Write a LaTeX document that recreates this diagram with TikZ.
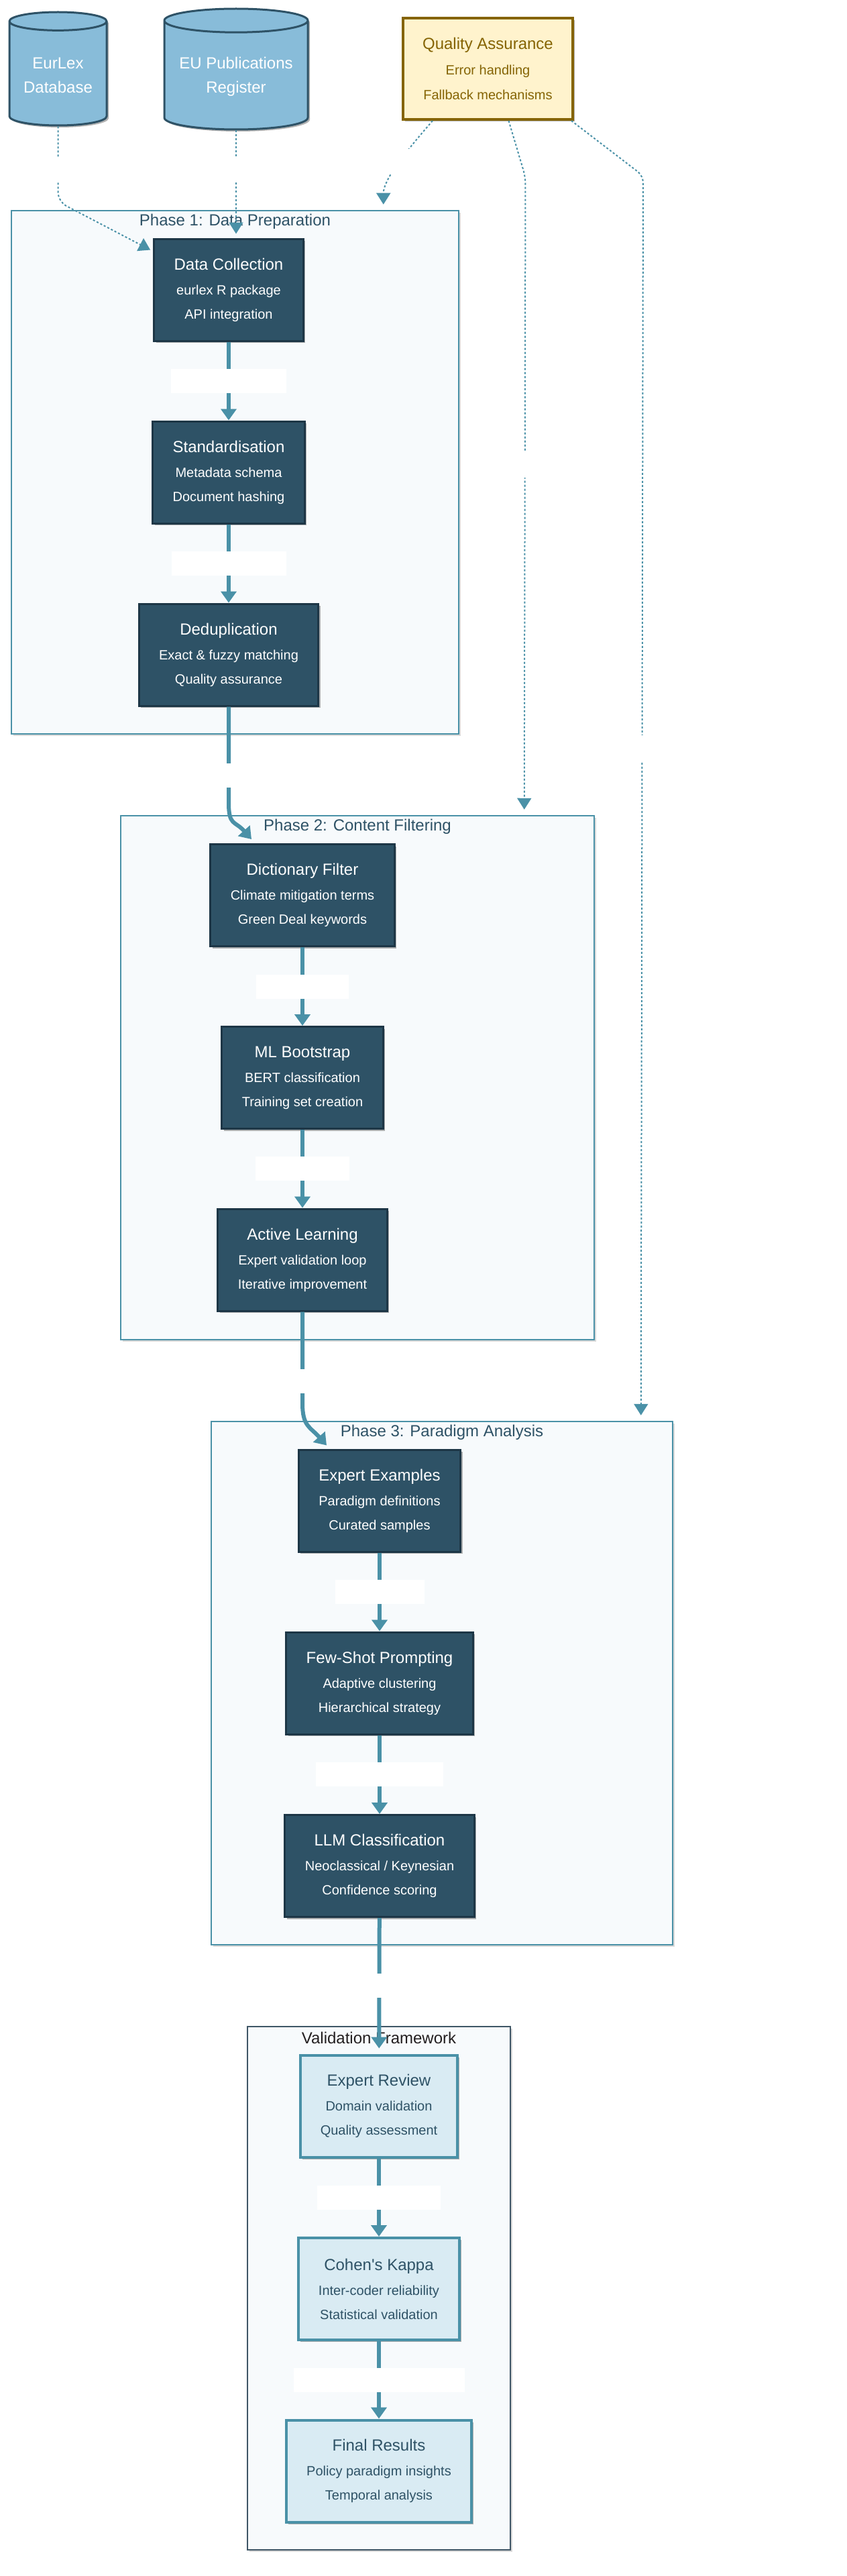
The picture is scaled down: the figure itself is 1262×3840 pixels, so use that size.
\documentclass[tikz,border=0pt]{standalone}
\usepackage{fontspec}
\setmainfont{Liberation Sans}
\usetikzlibrary{arrows.meta, shapes.geometric, shadows, calc, positioning}

\definecolor{stagefill}{HTML}{2E5266}
\definecolor{stageedge}{HTML}{1D3646}
\definecolor{flowteal}{HTML}{4A91A7}
\definecolor{phasefill}{HTML}{F7FAFC}
\definecolor{checkfill}{HTML}{D9EBF3}
\definecolor{checktext}{HTML}{2E5266}
\definecolor{qafill}{HTML}{FFF3CD}
\definecolor{qaedge}{HTML}{856404}
\definecolor{dbfill}{HTML}{88BCD9}
\definecolor{valedge}{HTML}{3F5666}
\definecolor{valtitle}{HTML}{231F20}

\newcommand{\stagelines}[3]{{\fontsize{24}{24}\selectfont #1}\\[1pt]#2\\#3}

\tikzset{
  boxshadow/.style={drop shadow={shadow xshift=3pt, shadow yshift=-3pt, opacity=.3, fill=black}},
  stage/.style={draw=stageedge, line width=3pt, fill=stagefill, text=white,
    align=center, inner xsep=30pt, minimum height=152pt,
    font=\fontsize{20}{36}\selectfont, boxshadow},
  checkbox/.style={stage, draw=flowteal, line width=4pt, fill=checkfill, text=checktext},
  phase/.style={draw=flowteal, line width=2.5pt, fill=phasefill,
    drop shadow={shadow xshift=3pt, shadow yshift=-3pt, opacity=.15, fill=black}},
  phasetitle/.style={text=checktext, font=\fontsize{24}{28}\selectfont},
  db/.style={cylinder, shape border rotate=90, anchor=shape center, draw=stagefill, line width=3pt,
    fill=dbfill, text=white, align=center, font=\fontsize{24}{36}\selectfont, boxshadow},
  qabox/.style={draw=qaedge, line width=4pt, fill=qafill, text=qaedge, align=center,
    inner xsep=28pt, minimum height=151pt, font=\fontsize{20}{37}\selectfont, boxshadow},
  flow/.style={draw=flowteal, line width=6pt, -{Triangle[width=23pt, length=17pt]}},
  qaflow/.style={draw=flowteal, line width=2pt, dash pattern=on 3pt off 3pt,
    -{Triangle[width=21pt, length=17pt]}},
  blanklabel/.style={fill=white, inner sep=0pt, minimum height=36pt, minimum width=40pt}
}

\begin{document}
\begin{tikzpicture}[x=1pt, y=-1pt]
  \useasboundingbox (0,0) rectangle (1262,3840);

  % sources and quality assurance
  \node[db, minimum width=145pt, minimum height=169pt, shape aspect=.25] (eurlex) at (86.5,102.5) {EurLex\\Database};
  \node[db, minimum width=214pt, minimum height=180pt, shape aspect=.2] (eupub) at (352,103) {EU Publications\\Register};
  \node[qabox, minimum width=253pt] (qa) at (727.5,102.5) {\stagelines{Quality Assurance}{Error handling}{Fallback mechanisms}};

  % phase frames
  \node[phase, minimum width=667pt, minimum height=780pt] (ph1) at (350.5,704) {};
  \node[phasetitle] (ph1title) at ($(ph1.north)+(0,18)$) {Phase 1: Data Preparation};
  \node[phase, minimum width=706pt, minimum height=781pt] (ph2) at (533,1606.5) {};
  \node[phasetitle] (ph2title) at ($(ph2.north)+(0,18)$) {Phase 2: Content Filtering};
  \node[phase, minimum width=688pt, minimum height=780pt] (ph3) at (659,2509) {};
  \node[phasetitle] (ph3title) at ($(ph3.north)+(0,18)$) {Phase 3: Paradigm Analysis};
  \node[phase, draw=valedge, line width=2pt, minimum width=392pt, minimum height=780pt] (valfw) at (565,3411) {};
  \node[phasetitle, text=valtitle] (valtitle) at ($(valfw.north)+(0,18)$) {Validation Framework};

  % phase 1
  \node[stage] (dc) at (341,432) {\stagelines{Data Collection}{eurlex R package}{API integration}};
  \node[stage] (std) at (341,704) {\stagelines{Standardisation}{Metadata schema}{Document hashing}};
  \node[stage] (dedup) at (341,976) {\stagelines{Deduplication}{Exact \& fuzzy matching}{Quality assurance}};

  % phase 2
  \node[stage] (df) at (451,1334.5) {\stagelines{Dictionary Filter}{Climate mitigation terms}{Green Deal keywords}};
  \node[stage] (ml) at (451,1606.5) {\stagelines{ML Bootstrap}{BERT classification}{Training set creation}};
  \node[stage] (al) at (451,1878) {\stagelines{Active Learning}{Expert validation loop}{Iterative improvement}};

  % phase 3
  \node[stage] (ee) at (566,2237) {\stagelines{Expert Examples}{Paradigm definitions}{Curated samples}};
  \node[stage] (fs) at (566,2509) {\stagelines{Few-Shot Prompting}{Adaptive clustering}{Hierarchical strategy}};
  \node[stage] (llm) at (566,2781.5) {\stagelines{LLM Classification}{Neoclassical / Keynesian}{Confidence scoring}};

  % validation
  \node[checkbox] (er) at (565,3139.5) {\stagelines{Expert Review}{Domain validation}{Quality assessment}};
  \node[checkbox] (ck) at (565,3412) {\stagelines{Cohen\textquotesingle s Kappa}{Inter-coder reliability}{Statistical validation}};
  \node[checkbox] (fr) at (565,3683.5) {\stagelines{Final Results}{Policy paradigm insights}{Temporal analysis}};

  % bends of the quality links
  \coordinate (eurlexbend) at ($(eurlex.south)+(0,112)$);
  \coordinate (qa1start) at ($(qa.south west)+(46,0)$);
  \coordinate (qa2start) at ($(qa.south)+(31,0)$);
  \coordinate (qa2bend) at ($(qa.south)+(56,84)$);
  \coordinate (qa3start) at ($(qa.south east)+(-4,0)$);
  \coordinate (qa3bend) at ($(qa.south east)+(103,82)$);

  % source links
  \draw[qaflow, rounded corners=14pt] (eurlex.south) -- node[blanklabel, pos=.57]{} (eurlexbend) -- ($(dc.north west)+(-4,18)$);
  \draw[qaflow] (eupub.south) -- node[blanklabel, pos=.37]{} ($(eupub.south |- dc.north)+(0,-6)$);

  % quality links
  \draw[qaflow] (qa1start) .. controls +(-30,35) and +(0,-40) .. node[blanklabel, minimum height=37pt]{} ($(ph1.north west)+(556,-8)$);
  \draw[qaflow, rounded corners=10pt] (qa2start) -- (qa2bend) -- node[blanklabel, minimum height=38pt, pos=.455]{} ($(ph2.north west)+(603,-8)$);
  \draw[qaflow, rounded corners=10pt] (qa3start) -- (qa3bend) -- node[blanklabel, minimum height=39pt, pos=.462]{} ($(ph3.north west)+(642,-8)$);

  % main flow
  \draw[flow] (dc) -- node[blanklabel, minimum width=172pt]{} (std);
  \draw[flow] (std) -- node[blanklabel, minimum width=171pt]{} (dedup);
  \draw[flow] (dedup.south) -- node[blanklabel, minimum width=60pt, pos=.72]{} ($(dedup.south)+(0,143)$)
    .. controls +(0,35) and +(-25,-28) .. ($(df.north)+(-76,-6)$);
  \draw[flow] (df) -- node[blanklabel, minimum width=138pt]{} (ml);
  \draw[flow] (ml) -- node[blanklabel, minimum width=140pt]{} (al);
  \draw[flow] (al.south) -- node[blanklabel, minimum width=60pt, pos=.76]{} ($(al.south)+(0,136)$)
    .. controls +(0,35) and +(-25,-28) .. ($(ee.north)+(-79,-5)$);
  \draw[flow] (ee) -- node[blanklabel, minimum width=133pt]{} (fs);
  \draw[flow] (fs) -- node[blanklabel, minimum width=190pt]{} (llm);
  \draw[flow, shorten >=8pt] (llm) -- node[blanklabel, minimum width=60pt]{} (er);
  \draw[flow] (er) -- node[blanklabel, minimum width=184pt]{} (ck);
  \draw[flow] (ck) -- node[blanklabel, minimum width=255pt]{} (fr);
\end{tikzpicture}
\end{document}
